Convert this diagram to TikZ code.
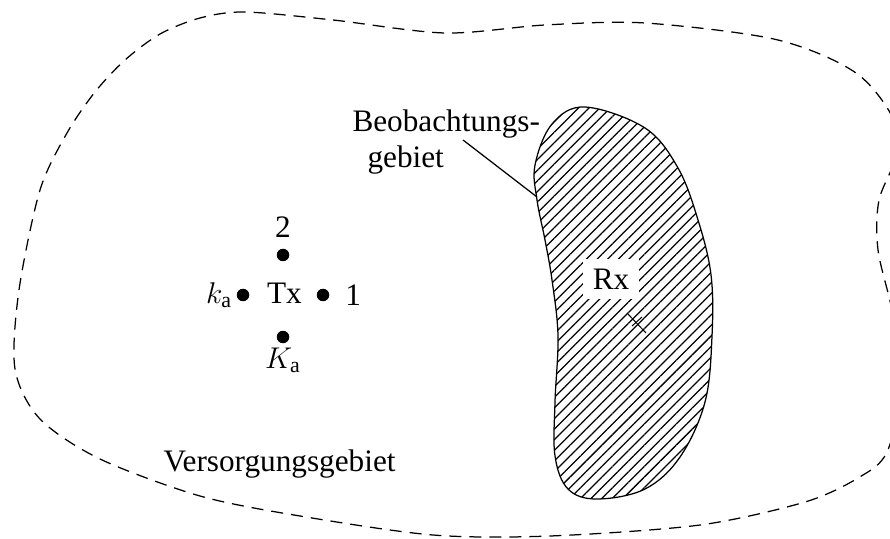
\documentclass[tikz,border=0pt]{standalone}
\usepackage{fontspec}
\setmainfont{Liberation Serif}
\usetikzlibrary{positioning,patterns.meta}

\tikzset{
  txdot/.style={circle,fill,inner sep=0pt,minimum size=5pt},
  lbl/.style={inner sep=0pt},
}

\begin{document}
\begin{tikzpicture}[x=0.4pt,y=-0.4pt,font=\fontsize{12.5}{15}\selectfont]

\useasboundingbox (0,0) rectangle (890,538);

% Versorgungsgebiet (dashed boundary)
\draw[line width=0.5pt, dash pattern=on 4.8pt off 3.2pt]
  plot[smooth cycle] coordinates {
    (245,12) (333,20) (445,33) (545,25) (645,23) (778,40) (860,76)
    (900,137) (879,200) (878,250) (892,310) (903,380) (887,452)
    (858,478) (805,502) (700,525) (550,536) (433,535) (300,516)
    (200,496) (100,459) (40,419) (15,369) (19,290)
    (40,190) (67,133) (95,92) (125,60) (160,34) (200,18)
  };

% Beobachtungsgebiet (hatched)
\draw[line width=0.5pt, pattern={Lines[angle=45,distance=3pt,line width=0.5pt]}]
  plot[smooth cycle, tension=0.6] coordinates {
    (585,107) (645,128) (678,168) (698,220) (711,275) (712,336)
    (705,402) (680,457) (645,489) (597,499) (568,489) (555,456)
    (555,402) (558,336) (552,280) (545,240) (537,200) (535,165)
    (552,124)
  };

% Rx
\node[fill=white, inner sep=4pt] (rx) at (611,279) {Rx};
\draw[line width=0.4pt] (627,313) -- (646,333);
\draw[line width=0.4pt] (632,326) -- (642,317);

% Tx and the four points
\node[lbl, anchor=base] (tx) at (284.5,303) {Tx};
\node[txdot] (p2) at (283,255) {};
\node[txdot] (p1) at (323,295) {};
\node[txdot] (pk) at (243,295) {};
\node[txdot] (pK) at (283,337) {};

\node[lbl, above=4pt of p2] (l2) {2};
\node[lbl, right=6pt of p1] (l1) {1};
\node[lbl, left=1.4pt of pk] (lk) {$k_{\mathrm{a}}$};
\node[lbl, below=1.4pt of pK] (lK) {$K_{\mathrm{a}}$};

% Labels
\node[lbl, anchor=base west] (beob) at (352,132) {Beobachtungs-};
\node[lbl, anchor=base west] (gebiet) at (367,168) {gebiet};
\coordinate (bstart) at (463,140);
\coordinate (bend) at (537,197);
\draw[line width=0.5pt] (bstart) -- (bend);

\node[lbl, anchor=base west] (versorg) at (163,471) {Versorgungsgebiet};

\end{tikzpicture}
\end{document}
